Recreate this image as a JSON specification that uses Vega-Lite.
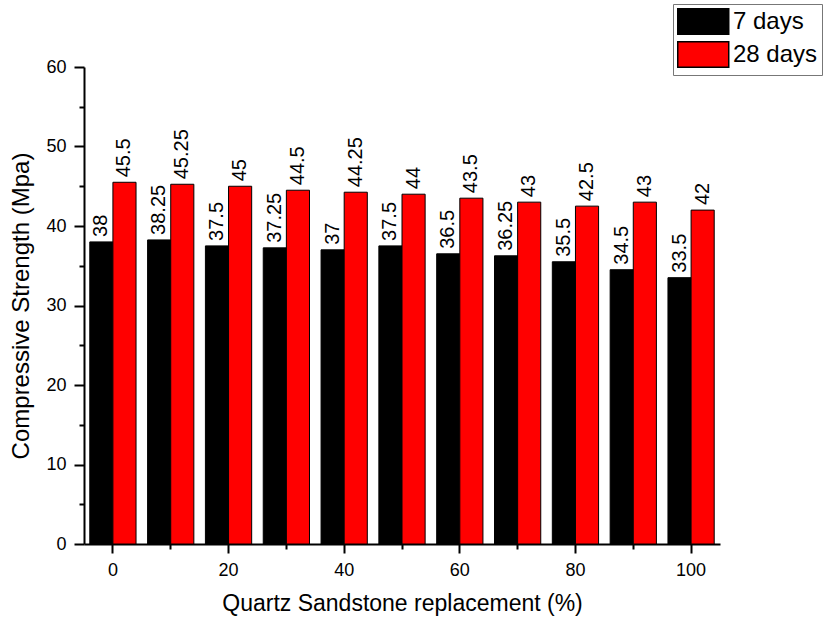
{
  "$schema": "https://vega.github.io/schema/vega-lite/v6.json",
  "autosize": "none",
  "padding": {"left": 84, "top": 67, "right": 104, "bottom": 77},
  "width": 636,
  "height": 477,
  "background": "white",
  "config": {
    "view": {"stroke": null},
    "font": "Liberation Sans",
    "axis": {"grid": false, "domainColor": "black", "tickColor": "black", "labelColor": "black", "titleColor": "black", "domainWidth": 2, "tickWidth": 2, "labelFont": "Liberation Sans", "titleFont": "Liberation Sans", "labelFontSize": 18, "titleFontSize": 23, "titleFontWeight": "normal"},
    "scale": {"bandPaddingInner": 0.2, "bandPaddingOuter": 0.1}
  },
  "data": {"values": [
    {"pct": 0, "age": "7 days", "strength": 38}, {"pct": 0, "age": "28 days", "strength": 45.5},
    {"pct": 10, "age": "7 days", "strength": 38.25}, {"pct": 10, "age": "28 days", "strength": 45.25},
    {"pct": 20, "age": "7 days", "strength": 37.5}, {"pct": 20, "age": "28 days", "strength": 45},
    {"pct": 30, "age": "7 days", "strength": 37.25}, {"pct": 30, "age": "28 days", "strength": 44.5},
    {"pct": 40, "age": "7 days", "strength": 37}, {"pct": 40, "age": "28 days", "strength": 44.25},
    {"pct": 50, "age": "7 days", "strength": 37.5}, {"pct": 50, "age": "28 days", "strength": 44},
    {"pct": 60, "age": "7 days", "strength": 36.5}, {"pct": 60, "age": "28 days", "strength": 43.5},
    {"pct": 70, "age": "7 days", "strength": 36.25}, {"pct": 70, "age": "28 days", "strength": 43},
    {"pct": 80, "age": "7 days", "strength": 35.5}, {"pct": 80, "age": "28 days", "strength": 42.5},
    {"pct": 90, "age": "7 days", "strength": 34.5}, {"pct": 90, "age": "28 days", "strength": 43},
    {"pct": 100, "age": "7 days", "strength": 33.5}, {"pct": 100, "age": "28 days", "strength": 42}
  ]},
  "encoding": {
    "x": {"field": "pct", "type": "ordinal", "scale": {"paddingInner": 0.2, "paddingOuter": 0.1},
      "axis": {"title": "Quartz Sandstone replacement (%)", "labelAngle": 0, "labelPadding": 8, "titlePadding": 13,
        "labelExpr": "datum.value % 20 === 0 ? datum.label : ''",
        "tickSize": {"condition": {"test": "datum.value % 20 === 0", "value": 9}, "value": 5}}},
    "xOffset": {"field": "age", "type": "nominal", "sort": ["7 days", "28 days"]},
    "y": {"field": "strength", "type": "quantitative", "scale": {"domain": [0, 60], "nice": false},
      "axis": {"title": "Compressive Strength (Mpa)", "titleFontSize": 24, "values": [0, 5, 10, 15, 20, 25, 30, 35, 40, 45, 50, 55, 60], "labelPadding": 8, "titlePadding": 12,
        "labelExpr": "datum.value % 10 === 0 ? datum.label : ''",
        "tickSize": {"condition": {"test": "datum.value % 10 === 0", "value": 10}, "value": 5}}}
  },
  "layer": [
    {
      "mark": {"type": "bar", "stroke": "black", "strokeWidth": 1},
      "encoding": {
        "color": {"field": "age", "type": "nominal", "sort": ["7 days", "28 days"],
          "scale": {"domain": ["7 days", "28 days"], "range": ["#000000", "#ff0000"]},
          "legend": {"title": null, "orient": "none", "legendX": 589, "legendY": -63, "strokeColor": "#777777", "padding": 4,
            "symbolType": "M-1,-1H3V1H-1Z", "symbolSize": 650, "labelFontSize": 24, "labelFont": "Liberation Sans", "labelColor": "black", "labelOffset": 29, "rowPadding": 0,
            "symbolOpacity": 1,
            "encode": {"symbols": {"update": {"stroke": {"value": "black"}, "strokeWidth": {"value": 1}}}}}}
      }
    },
    {
      "mark": {"type": "text", "angle": 270, "align": "left", "baseline": "middle", "dx": 5, "fontSize": 20, "font": "Liberation Sans", "color": "black"},
      "encoding": {"text": {"field": "strength", "type": "quantitative"}}
    }
  ]
}
